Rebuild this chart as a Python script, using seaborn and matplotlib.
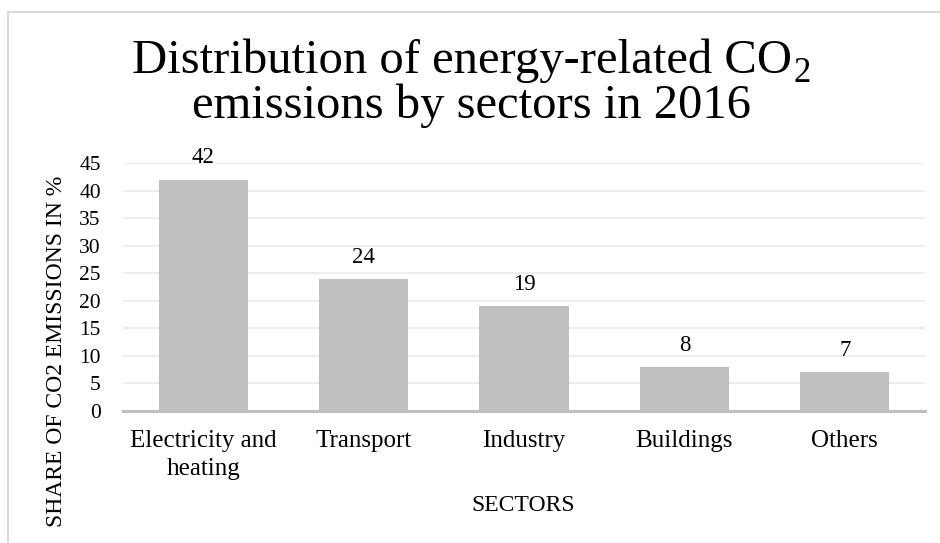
import matplotlib
matplotlib.use("Agg")
import matplotlib.pyplot as plt
from matplotlib.lines import Line2D
import seaborn as sns
import pandas as pd

categories = ["Electricity and\nheating", "Transport", "Industry", "Buildings", "Others"]
values = [42, 24, 19, 8, 7]
y_ticks = [0, 5, 10, 15, 20, 25, 30, 35, 40, 45]

sns.set_theme(style="white")
plt.rcParams['font.family'] = ['Liberation Serif', 'DejaVu Serif']
for k in ['text.color', 'axes.labelcolor', 'xtick.color', 'ytick.color']:
    plt.rcParams[k] = 'black'

df = pd.DataFrame({"sector": categories, "share": values})

W, H = 940, 543
fig = plt.figure(figsize=(9.4, 5.43), dpi=100)
ax = fig.add_axes([123/W, 1-411/H, (925-123)/W, (411-163)/H])

sns.barplot(data=df, x="sector", y="share", color="#BFBFBF", width=0.555,
            saturation=1, linewidth=0, ax=ax, zorder=2)

ax.set_ylim(0, 45)
ax.set_yticks(y_ticks)
ax.yaxis.grid(True, color="#EEEEEE", lw=1.6, zorder=0)
ax.xaxis.grid(False)
for s in ["top", "right", "left"]:
    ax.spines[s].set_visible(False)
ax.spines["bottom"].set_color("#BFBFBF")
ax.spines["bottom"].set_linewidth(2.2)
ax.spines["bottom"].set_zorder(3)
ax.tick_params(axis="both", length=0, colors="black")
ax.tick_params(axis="y", labelsize=15.5, pad=16)
ax.tick_params(axis="x", labelsize=18, pad=14)
for t in ax.get_xticklabels():
    t.set_linespacing(1.3)

for c in ax.containers:
    ax.bar_label(c, labels=[str(v) for v in values], padding=8, fontsize=16.5)

ax.set_xlabel("SECTORS", fontsize=17)
ax.set_ylabel("SHARE OF CO2 EMISSIONS IN %", fontsize=17)
ax.yaxis.set_label_coords(-0.0835, 0.242)
ax.xaxis.set_label_coords((523-123)/802, -(506-411)/248)
ax.xaxis.label.set_va("center")
ax.yaxis.label.set_va("center")

# Title with lowered subscript
t1 = fig.text(0, 1-73/H, "Distribution of energy-related CO",
              ha="left", va="baseline", fontsize=35)
t1s = fig.text(0, 1-82/H, "2", ha="left", va="baseline", fontsize=25)
fig.canvas.draw()
r = fig.canvas.get_renderer()
w1 = t1.get_window_extent(r).width
ws = t1s.get_window_extent(r).width
gap = 1
total = w1 + gap + ws
x0 = 471.5 - total / 2
t1.set_x(x0 / W)
t1s.set_x((x0 + w1 + gap) / W)
fig.text(471/W, 1-118/H, "emissions by sectors in 2016",
         ha="center", va="baseline", fontsize=35)

# outer frame (left and top edges visible)
fig.add_artist(Line2D([8/W, 8/W], [0, 1-12/H], transform=fig.transFigure,
                      color="#D9D9D9", lw=1.5))
fig.add_artist(Line2D([8/W, 1], [1-12/H, 1-12/H], transform=fig.transFigure,
                      color="#D9D9D9", lw=1.5))

fig.savefig("out.png", dpi=100)
